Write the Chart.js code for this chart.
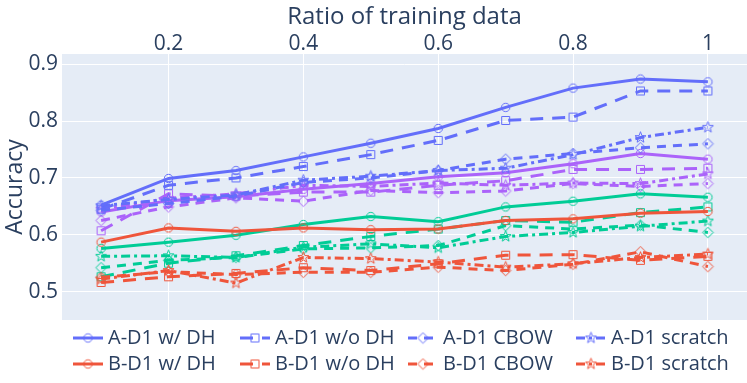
<!DOCTYPE html>
<html>
<head>
<meta charset="utf-8">
<script src="https://cdn.jsdelivr.net/npm/chart.js@4.4.1/dist/chart.umd.min.js"></script>
<style>
  html, body { margin: 0; padding: 0; background: #fff; }
  canvas { display: block; }
</style>
</head>
<body>
<canvas id="accChart" width="747" height="383"></canvas>
<script>
// x values (ratio of training data) and tick labels
const ratios = [0.1, 0.2, 0.3, 0.4, 0.5, 0.6, 0.7, 0.8, 0.9, 1.0];
const xTicks = [0.2, 0.4, 0.6, 0.8, 1];
const yTicks = [0.5, 0.6, 0.7, 0.8, 0.9];

// A-D1 (blue)
const aD1WithDH    = [0.652, 0.699, 0.713, 0.737, 0.761, 0.787, 0.824, 0.858, 0.874, 0.869];
const aD1WithoutDH = [0.645, 0.687, 0.700, 0.720, 0.741, 0.766, 0.801, 0.807, 0.853, 0.853];
const aD1Cbow      = [0.643, 0.655, 0.668, 0.692, 0.700, 0.713, 0.733, 0.743, 0.753, 0.760];
const aD1Scratch   = [0.651, 0.662, 0.670, 0.696, 0.703, 0.713, 0.717, 0.741, 0.771, 0.789];

// B-D1 (red)
const bD1WithDH    = [0.587, 0.612, 0.606, 0.612, 0.609, 0.610, 0.625, 0.628, 0.638, 0.641];
const bD1WithoutDH = [0.516, 0.526, 0.532, 0.542, 0.537, 0.549, 0.564, 0.565, 0.555, 0.562];
const bD1Cbow      = [0.525, 0.535, 0.530, 0.534, 0.534, 0.543, 0.537, 0.548, 0.570, 0.544];
const bD1Scratch   = [0.522, 0.537, 0.515, 0.560, 0.558, 0.552, 0.543, 0.549, 0.560, 0.566];

// second A set (purple), not listed in the legend
const aD2WithDH    = [0.640, 0.660, 0.667, 0.680, 0.690, 0.702, 0.709, 0.725, 0.743, 0.733];
const aD2WithoutDH = [0.607, 0.672, 0.668, 0.675, 0.675, 0.687, 0.695, 0.715, 0.715, 0.717];
const aD2Cbow      = [0.625, 0.649, 0.665, 0.659, 0.678, 0.674, 0.677, 0.690, 0.685, 0.690];
const aD2Scratch   = [0.645, 0.664, 0.672, 0.687, 0.685, 0.691, 0.687, 0.691, 0.690, 0.707];

// second B set (green), not listed in the legend
const bD2WithDH    = [0.576, 0.587, 0.599, 0.618, 0.632, 0.623, 0.649, 0.659, 0.672, 0.666];
const bD2WithoutDH = [0.526, 0.550, 0.563, 0.581, 0.597, 0.610, 0.625, 0.622, 0.639, 0.649];
const bD2Cbow      = [0.542, 0.555, 0.560, 0.575, 0.577, 0.581, 0.616, 0.610, 0.617, 0.604];
const bD2Scratch   = [0.562, 0.563, 0.560, 0.578, 0.584, 0.577, 0.597, 0.604, 0.615, 0.624];

const BLUE = "#636EFA", RED = "#EF553B", PURPLE = "#AB63FA", GREEN = "#00CC96";
const FONT = "'Open Sans', sans-serif";
const TEXT = "#2a3f5f";

// line style per variant
const variants = {
    withDH:    { dash: [],            shape: "circle" },
    withoutDH: { dash: [13, 9],       shape: "square" },
    cbow:      { dash: [9, 7],        shape: "diamond" },
    scratch:   { dash: [9, 4, 3, 4],  shape: "star" },
};

// open plotly-like markers drawn on a small canvas
function makeMarker(shape, color) {
    const c = document.createElement("canvas");
    c.width = 15; c.height = 15;
    const g = c.getContext("2d");
    g.strokeStyle = color;
    g.lineWidth = 1;
    const m = 7.5;
    g.beginPath();
    if (shape === "circle") {
        g.arc(m, m, 4.2, 0, Math.PI * 2);
    } else if (shape === "square") {
        g.rect(m - 4, m - 4, 8, 8);
    } else if (shape === "diamond") {
        g.moveTo(m, m - 5.3); g.lineTo(m + 5.3, m); g.lineTo(m, m + 5.3); g.lineTo(m - 5.3, m);
        g.closePath();
    } else {
        for (let i = 0; i < 10; i++) {
            const r = i % 2 === 0 ? 5.8 : 2.4;
            const a = -Math.PI / 2 + (i * Math.PI) / 5;
            const px = m + r * Math.cos(a), py = m + r * Math.sin(a);
            if (i === 0) g.moveTo(px, py); else g.lineTo(px, py);
        }
        g.closePath();
    }
    g.stroke();
    return c;
}

function series(label, values, color, variant, inLegend) {
    const v = variants[variant];
    return {
        label,
        data: ratios.map((x, i) => ({ x, y: values[i] })),
        borderColor: color,
        backgroundColor: color,
        borderWidth: 3,
        borderDash: v.dash,
        borderCapStyle: "butt",
        tension: 0,
        pointStyle: makeMarker(v.shape, color),
        pointRadius: 5,
        fill: false,
        inLegend,
    };
}

const datasets = [
    series("A-D1 w/ DH", aD1WithDH, BLUE, "withDH", true),
    series("A-D1 w/o DH", aD1WithoutDH, BLUE, "withoutDH", true),
    series("A-D1 CBOW", aD1Cbow, BLUE, "cbow", true),
    series("A-D1 scratch", aD1Scratch, BLUE, "scratch", true),
    series("B-D1 w/ DH", bD1WithDH, RED, "withDH", true),
    series("B-D1 w/o DH", bD1WithoutDH, RED, "withoutDH", true),
    series("B-D1 CBOW", bD1Cbow, RED, "cbow", true),
    series("B-D1 scratch", bD1Scratch, RED, "scratch", true),
    series("A-D2 w/ DH", aD2WithDH, PURPLE, "withDH", false),
    series("A-D2 w/o DH", aD2WithoutDH, PURPLE, "withoutDH", false),
    series("A-D2 CBOW", aD2Cbow, PURPLE, "cbow", false),
    series("A-D2 scratch", aD2Scratch, PURPLE, "scratch", false),
    series("B-D2 w/ DH", bD2WithDH, GREEN, "withDH", false),
    series("B-D2 w/o DH", bD2WithoutDH, GREEN, "withoutDH", false),
    series("B-D2 CBOW", bD2Cbow, GREEN, "cbow", false),
    series("B-D2 scratch", bD2Scratch, GREEN, "scratch", false),
];

// white page + light plot background
const plotBackground = {
    id: "plotBackground",
    beforeDraw(chart) {
        const { ctx, chartArea: a } = chart;
        ctx.save();
        ctx.fillStyle = "#fff";
        ctx.fillRect(0, 0, chart.width, chart.height);
        ctx.fillStyle = "#E5ECF6";
        ctx.fillRect(a.left, a.top, a.right - a.left, a.bottom - a.top);
        ctx.restore();
    },
};

// legend laid out in plotly-style columns below the plot
const columnLegend = {
    id: "columnLegend",
    afterDraw(chart) {
        const ctx = chart.ctx;
        const colX = [68, 235, 403, 571];
        const rowY = [338, 364];
        const items = chart.data.datasets.filter((d) => d.inLegend);
        ctx.save();
        items.forEach((d, i) => {
            const x = colX[i % 4];
            const y = rowY[Math.floor(i / 4)];
            ctx.strokeStyle = d.borderColor;
            ctx.lineWidth = 3;
            ctx.lineCap = "butt";
            ctx.setLineDash(d.borderDash);
            ctx.beginPath();
            ctx.moveTo(x + 5, y);
            ctx.lineTo(x + 35, y);
            ctx.stroke();
            ctx.setLineDash([]);
            const img = d.pointStyle;
            ctx.drawImage(img, x + 20 - img.width / 2, y - img.height / 2);
            ctx.fillStyle = TEXT;
            ctx.font = "20px " + FONT;
            ctx.textBaseline = "middle";
            ctx.textAlign = "left";
            ctx.fillText(d.label, x + 40, y);
        });
        ctx.restore();
    },
};

new Chart(document.getElementById("accChart"), {
    type: "line",
    data: { datasets },
    options: {
        responsive: false,
        animation: false,
        devicePixelRatio: 1,
        layout: { autoPadding: false, padding: { left: 0, right: 0, top: 0, bottom: 63 } },
        plugins: {
            legend: { display: false },
            tooltip: { enabled: false },
        },
        scales: {
            x: {
                type: "linear",
                position: "top",
                min: 0.042,
                max: 1.058,
                afterBuildTicks: (s) => { s.ticks = xTicks.map((value) => ({ value })); },
                afterFit: (s) => { s.height = 54; },
                grid: { color: "#fff", lineWidth: 1, drawTicks: false },
                border: { display: false },
                ticks: {
                    padding: -3,
                    color: TEXT,
                    font: { family: FONT, size: 21 },
                    maxRotation: 0,
                    callback: (v) => (v === 1 ? "1" : v.toFixed(1)),
                },
                title: {
                    display: true,
                    text: "Ratio of training data",
                    color: TEXT,
                    font: { family: FONT, size: 24 },
                    padding: { top: 3, bottom: 0 },
                },
            },
            y: {
                min: 0.45,
                max: 0.918,
                afterBuildTicks: (s) => { s.ticks = yTicks.map((value) => ({ value })); },
                afterFit: (s) => { s.width = 62; },
                grid: { color: "#fff", lineWidth: 1, drawTicks: false },
                border: { display: false },
                ticks: {
                    padding: 4,
                    color: TEXT,
                    font: { family: FONT, size: 21 },
                    callback: (v) => v.toFixed(1),
                },
                title: {
                    display: true,
                    text: "Accuracy",
                    color: TEXT,
                    font: { family: FONT, size: 23 },
                    padding: { top: 2, bottom: 0 },
                },
            },
        },
    },
    plugins: [plotBackground, columnLegend],
});
</script>
</body>
</html>
